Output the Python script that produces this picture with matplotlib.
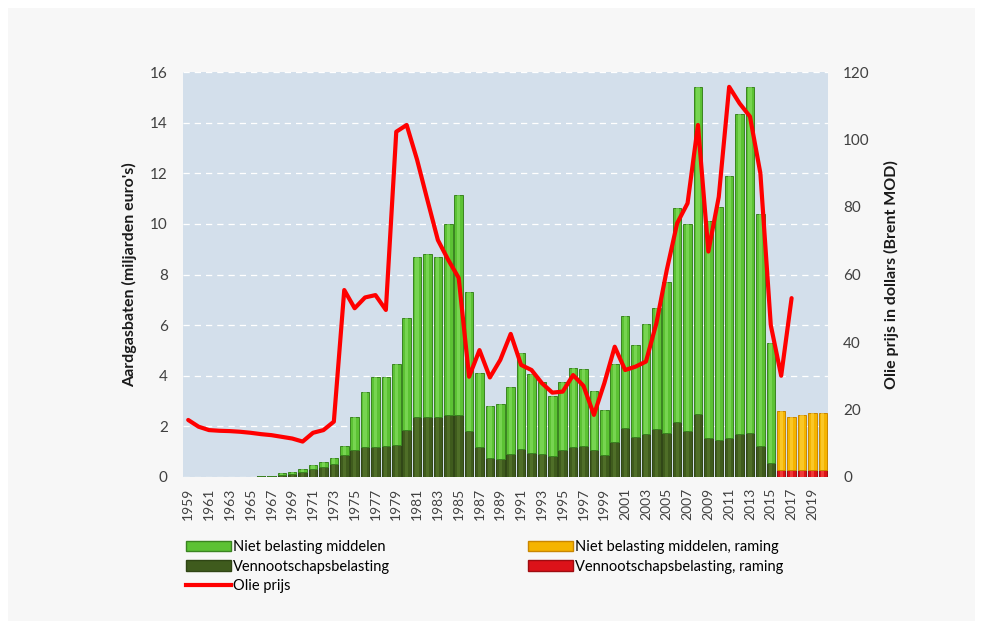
import numpy as np
import matplotlib.pyplot as plt
from matplotlib.patches import Rectangle, Patch
from matplotlib.lines import Line2D

plt.rcParams['font.family'] = ['Lato', 'DejaVu Sans']

# gerealiseerde jaren 1959-2015
jaren = list(range(1959, 2016))
vpb = [0, 0, 0, 0, 0, 0, 0, 0.02, 0.03, 0.09, 0.13, 0.2, 0.33, 0.4, 0.5, 0.85,
       1.07, 1.2, 1.2, 1.22, 1.26, 1.86, 2.37, 2.38, 2.37, 2.45, 2.46, 1.82, 1.18,
       0.75, 0.7, 0.9, 1.1, 0.95, 0.9, 0.83, 1.05, 1.2, 1.22, 1.05, 0.85, 1.4,
       1.93, 1.6, 1.7, 1.9, 1.75, 2.19, 1.83, 2.49, 1.54, 1.46, 1.54, 1.7, 1.74,
       1.22, 0.55]
niet_bel = [0, 0, 0, 0, 0, 0, 0, 0.01, 0.02, 0.05, 0.07, 0.1, 0.14, 0.18, 0.25,
            0.39, 1.31, 2.16, 2.75, 2.73, 3.2, 4.42, 6.32, 6.43, 6.32, 7.55, 8.68,
            5.48, 2.92, 2.05, 2.2, 2.65, 3.8, 3.12, 2.85, 2.37, 2.7, 3.1, 3.05,
            2.35, 1.8, 3.05, 4.44, 3.61, 4.34, 4.79, 5.95, 8.45, 8.17, 12.93, 8.56,
            9.22, 10.35, 12.64, 13.68, 9.17, 4.74]

# raming 2016-2020
jaren_raming = list(range(2016, 2021))
vpb_raming = [0.28, 0.28, 0.28, 0.28, 0.28]
niet_bel_raming = [2.34, 2.1, 2.17, 2.24, 2.24]

# olieprijs 1959-2017
jaren_olie = list(range(1959, 2018))
olie = [16.9, 14.9, 13.9, 13.7, 13.6, 13.4, 13.1, 12.7, 12.4, 11.9, 11.4, 10.5,
        13.1, 13.9, 16.4, 55.4, 50.0, 53.2, 53.9, 49.5, 102.3, 104.3, 94.0, 82.0,
        70.2, 64.3, 59.0, 29.7, 37.6, 29.5, 34.7, 42.4, 33.2, 31.7, 27.8, 25.0,
        25.3, 30.2, 27.0, 18.4, 27.8, 38.6, 31.7, 32.7, 34.2, 45.5, 61.3, 75.2,
        81.1, 104.3, 66.8, 83.0, 115.6, 110.7, 106.8, 90.0, 45.0, 30.0, 53.0]

tick_jaren = list(range(1959, 2020, 2))

licht_groen = '#5cc234'
donker_groen = '#3f5b1d'
geel = '#f5b400'
rood = '#dc1219'
tekst = '#404040'

fig = plt.figure(figsize=(9.83, 6.29), dpi=100, facecolor='white')
fig.patches.append(Rectangle((8 / 983, 8 / 629), 967 / 983, 613 / 629,
                             transform=fig.transFigure, facecolor='#f7f7f7',
                             edgecolor='none', zorder=-10))

ax = fig.add_axes([183 / 983, 1 - 477 / 629, 645 / 983, 405 / 629])
ax.set_facecolor('#d3dfeb')
w = 0.82


def cilinder(x, h, onder, kleur, rand, glans):
    # staaf met een lichte middenstreep voor het 3D-effect
    ax.bar(x, h, width=w, bottom=onder, color=kleur, edgecolor=rand, linewidth=0.7)
    ax.bar(x, h, width=w * 0.38, bottom=onder, color=glans, alpha=0.55,
           edgecolor='none')


cilinder(jaren, vpb, 0, donker_groen, '#2f4514', '#5e7f32')
cilinder(jaren, niet_bel, vpb, licht_groen, '#3a8420', '#8ee46a')
cilinder(jaren_raming, vpb_raming, 0, rood, '#9e0c10', '#ff5a50')
cilinder(jaren_raming, niet_bel_raming, vpb_raming, geel, '#c98600', '#ffd84a')

ax.set_xlim(1958.5, 2020.5)
ax.set_ylim(0, 16)
ax.set_yticks(range(0, 17, 2))
ax.set_xticks(tick_jaren)
ax.set_xticklabels([str(j) for j in tick_jaren], rotation=90)
ax.grid(axis='y', color='white', linestyle=(0, (5, 4)), linewidth=0.9)
ax.set_axisbelow(True)
ax.tick_params(axis='y', length=0, pad=11, labelsize=11, labelcolor=tekst)
ax.tick_params(axis='x', length=0, pad=8, labelsize=10, labelcolor=tekst)
ax.set_ylabel("Aardgasbaten (miljarden euro's)", fontsize=11.5, fontweight='bold',
              color='#1a1a1a', labelpad=9)
for s in ax.spines.values():
    s.set_visible(False)

ax2 = ax.twinx()
ax2.plot(jaren_olie, olie, color='#ff0000', linewidth=3, solid_joinstyle='round',
         solid_capstyle='round')
ax2.set_ylim(0, 120)
ax2.set_yticks(range(0, 121, 20))
ax2.tick_params(axis='y', length=0, pad=11, labelsize=11, labelcolor=tekst)
ax2.set_ylabel('Olie prijs in dollars (Brent MOD)', fontsize=11.5, fontweight='bold',
               color='#1a1a1a', labelpad=10)
for s in ax2.spines.values():
    s.set_visible(False)

links = [Patch(facecolor=licht_groen, edgecolor='#3a8420'),
         Patch(facecolor=donker_groen, edgecolor='#2f4514'),
         Line2D([], [], color='#ff0000', linewidth=3)]
rechts = [Patch(facecolor=geel, edgecolor='#c98600'),
          Patch(facecolor=rood, edgecolor='#9e0c10')]

leg_kw = dict(frameon=False, fontsize=10.5, handlelength=3.1, handleheight=0.7,
              handletextpad=0.15, labelspacing=0.38, borderpad=0, borderaxespad=0,
              loc='upper left')
fig.legend(links, ['Niet belasting middelen', 'Vennootschapsbelasting', 'Olie prijs'],
           bbox_to_anchor=(186 / 983, 1 - 540 / 629), **leg_kw)
fig.legend(rechts, ['Niet belasting middelen, raming', 'Vennootschapsbelasting, raming'],
           bbox_to_anchor=(528 / 983, 1 - 540 / 629), **leg_kw)

fig.savefig('out.png', dpi=100, facecolor=fig.get_facecolor())
